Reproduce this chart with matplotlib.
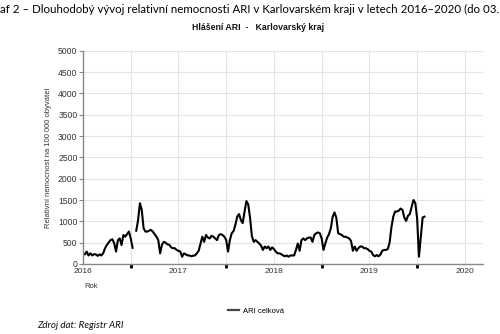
import numpy as np
import matplotlib
matplotlib.use("Agg")
import matplotlib.pyplot as plt
from matplotlib.lines import Line2D

# ---- data ----
start_year = 2016
weekly_ari = [
    250, 225, 290, 200, 250, 200, 230, 225, 190, 225,
    200, 250, 370, 445, 505, 560, 580, 485, 290, 560,
    600, 445, 680, 640, 700, 760, 600, 380, np.nan, 780,
    1030, 1425, 1270, 840, 760, 760, 780, 800, 760, 700,
    640, 560, 250, 450, 520, 500, 460, 450, 390, 370,
    370, 330, 310, 290, 170, 250, 225, 200, 200, 180,
    195, 200, 250, 310, 480, 640, 520, 680, 620, 600,
    660, 640, 600, 560, 680, 700, 680, 640, 560, 290,
    560, 720, 770, 920, 1110, 1170, 1030, 960, 1230, 1475,
    1400, 1080, 650, 520, 560, 520, 480, 430, 330, 410,
    370, 410, 330, 390, 350, 290, 250, 250, 230, 200,
    180, 200, 170, 200, 200, 200, 330, 480, 310, 560,
    600, 560, 600, 620, 620, 520, 680, 720, 740, 720,
    600, 330, 480, 620, 700, 840, 1110, 1210, 1080, 720,
    700, 680, 640, 640, 620, 600, 540, 310, 410, 310,
    370, 410, 410, 370, 370, 350, 310, 290, 210, 180,
    210, 180, 220, 310, 330, 330, 350, 500, 860, 1110,
    1230, 1230, 1250, 1300, 1270, 1090, 1010, 1130, 1170, 1330,
    1500, 1430, 1070, 170, 640, 1090, 1110,
]
year_labels = ["2016", "2017", "2018", "2019", "2020"]
y_ticks = [0, 500, 1000, 1500, 2000, 2500, 3000, 3500, 4000, 4500, 5000]
series_name = "ARI celková"

# ---- figure ----
fig = plt.figure(figsize=(5.0, 3.34), dpi=100)
fig.patch.set_facecolor("white")
ax = fig.add_axes([0.166, 0.2096, 0.80, 0.6384])

x = start_year + np.arange(len(weekly_ari)) / 52.0
ax.plot(x, weekly_ari, color="black", lw=1.5, solid_joinstyle="round")

ax.set_xlim(2016.0, 2020.19)
ax.set_ylim(0, 5000)

years = [int(y) for y in year_labels]
ax.set_xticks(years)
ax.set_xticklabels(year_labels, fontsize=6, color="#333333", family="Liberation Sans")
ax.set_xticks([y + 0.5 for y in years[:-1]], minor=True)
ax.tick_params(axis="x", which="major", length=0, pad=3)
ax.tick_params(axis="x", which="minor", length=3, width=2, color="black", direction="out")

ax.set_yticks(y_ticks)
ax.set_yticklabels([str(v) for v in y_ticks], fontsize=6.2, color="#333333", family="Liberation Sans")
ax.tick_params(axis="y", length=3, width=0.8, color="#888888", pad=1)

ax.grid(True, which="both", axis="x", color="#e3e3e3", lw=0.8)
ax.grid(True, which="major", axis="y", color="#e3e3e3", lw=0.8)
ax.set_axisbelow(True)
for s in ["top", "right"]:
    ax.spines[s].set_visible(False)
for s in ["left", "bottom"]:
    ax.spines[s].set_color("#888888")
    ax.spines[s].set_linewidth(1.0)

ax.set_ylabel("Relativní nemocnost na 100 000 obyvatel", fontsize=5.5,
              color="#333333", family="Liberation Sans", labelpad=4)

fig.text(0.0, 0.973,
         "af 2 \u2013 Dlouhodobý vývoj relativní nemocnosti ARI v Karlovarském kraji v letech 2016\u20132020 (do 03.",
         ha="left", va="center", fontsize=8.3, family="Lato", color="#000000")
fig.text(0.516, 0.919, "Hlášení ARI  -   Karlovarský kraj", ha="center", va="center",
         fontsize=6.3, fontweight="bold", family="Liberation Sans", color="#111111")
fig.text(0.182, 0.141, "Rok", ha="center", va="center", fontsize=5.5,
         family="Liberation Sans", color="#333333")
fig.text(0.074, 0.024, "Zdroj dat: Registr ARI", ha="left", va="center", fontsize=7,
         style="italic", family="Lato", color="#111111")

handle = Line2D([], [], color="#444444", lw=1.6)
fig.legend([handle], [series_name], loc="center", bbox_to_anchor=(0.512, 0.069),
           frameon=False, handlelength=1.4, handletextpad=0.5,
           prop={"family": "Liberation Sans", "size": 5.5})

fig.savefig("out.png", dpi=100, facecolor="white")
